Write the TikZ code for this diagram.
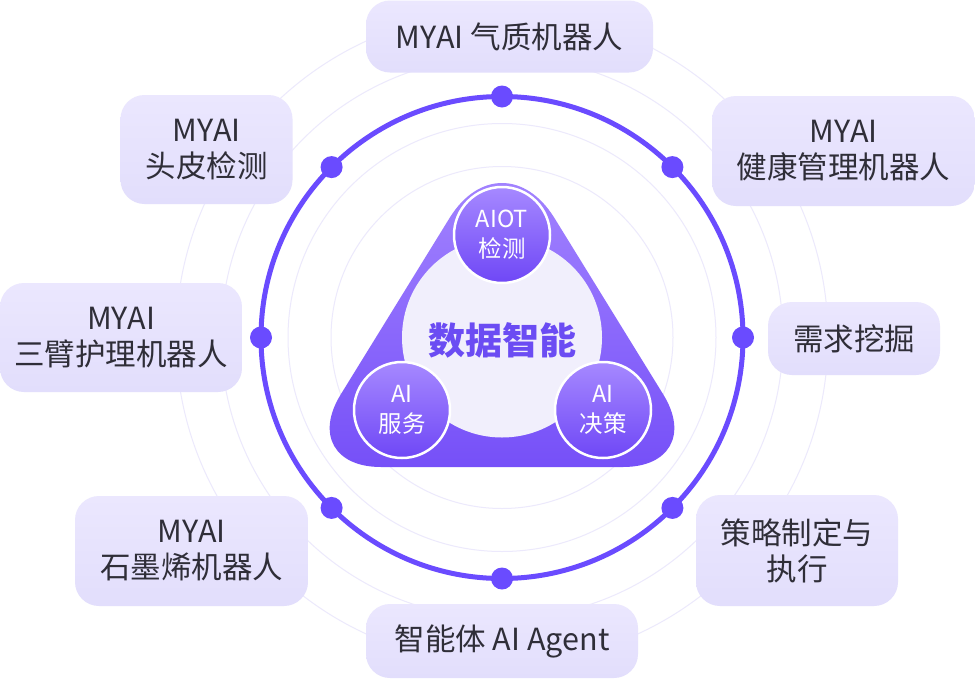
\documentclass[tikz,border=0pt]{standalone}
\usepackage{fontspec}
\setmainfont{Noto Sans CJK SC}
\usetikzlibrary{calc}
\definecolor{ringc}{HTML}{6A4BFF}
\definecolor{faint}{HTML}{ECE9FC}
\definecolor{cardtop}{HTML}{EBE7FE}
\definecolor{cardbot}{HTML}{E2DEFC}
\definecolor{txt}{HTML}{2F2E38}
\definecolor{tritop}{HTML}{A384FF}
\definecolor{tribot}{HTML}{7650F8}
\definecolor{hubtop}{HTML}{A689FF}
\definecolor{hubbot}{HTML}{6F47F6}
\definecolor{core}{HTML}{F1EFFC}
\definecolor{coretext}{HTML}{6B4CF3}
\begin{document}
\begin{tikzpicture}[x=1pt,y=-1pt,
  card/.style={rounded corners=24pt, top color=cardtop, bottom color=cardbot,
    draw=none, align=center, text=txt, inner sep=0pt,
    font=\fontsize{30.5}{36}\selectfont},
  hub/.style={circle, minimum size=96pt, inner sep=0pt, top color=hubtop,
    bottom color=hubbot, draw=white, line width=2.5pt, align=center,
    text=white, font=\fontsize{23.5}{30}\selectfont},
  dotn/.style={circle, fill=ringc, minimum size=22pt, inner sep=0pt},
  faintc/.style={draw=faint, line width=1pt}]
\useasboundingbox (0,0) rectangle (975,678);
\fill[white] (0,0) rectangle (975,678);
\coordinate (O) at (502,337.5);
% faint concentric circles
\foreach \r in {171,214,281,326}
  \draw[faintc] (O) circle[radius=\r pt];
% main ring
\draw[ringc, line width=5pt] (O) circle[radius=241pt];
\foreach \a/\n in {90/d1,45/d2,0/d3,-45/d4,-90/d5,-135/d6,180/d7,135/d8}
  \node[dotn] (\n) at ($(O)+({241*cos(\a)},{-241*sin(\a)})$) {};
% rounded triangle
\coordinate (TA) at (502,133);
\coordinate (TB) at (296,467);
\coordinate (TC) at (708,467);
\coordinate (P1) at ($(TA)!100pt!(TB)$);
\coordinate (P2) at ($(TA)!100pt!(TC)$);
\coordinate (Q1) at ($(TB)!85pt!(TA)$);
\coordinate (Q2) at ($(TB)!85pt!(TC)$);
\coordinate (R2) at ($(TC)!85pt!(TB)$);
\coordinate (R1) at ($(TC)!85pt!(TA)$);
\shade[top color=tritop, bottom color=tribot]
  (P1) .. controls ($(P1)!0.55!(TA)$) and ($(P2)!0.55!(TA)$) .. (P2)
  -- (R1) .. controls ($(R1)!0.55!(TC)$) and ($(R2)!0.55!(TC)$) .. (R2)
  -- (Q2) .. controls ($(Q2)!0.55!(TB)$) and ($(Q1)!0.55!(TB)$) .. (Q1)
  -- cycle;
\node[circle, fill=core, minimum size=200pt, inner sep=0pt] (core) at (O) {};
\node[text=coretext, font=\fontsize{37}{42}\selectfont\bfseries] (title) at (502,340) {数据智能};
\node[hub] (h1) at (502,235) {AIOT\\检测};
\node[hub] (h2) at (402,410) {AI\\服务};
\node[hub] (h3) at (603,410) {AI\\决策};
% cards
\node[card, minimum width=287pt, minimum height=72pt] (c1) at (509.5,36.5) {MYAI 气质机器人};
\node[card, minimum width=172pt, minimum height=109pt] (c2) at (206.5,149.5) {MYAI\\头皮检测};
\node[card, minimum width=263pt, minimum height=110pt] (c3) at (843.5,151) {MYAI\\健康管理机器人};
\node[card, minimum width=172pt, minimum height=73pt] (c4) at (854,338.5) {需求挖掘};
\node[card, minimum width=242pt, minimum height=109pt] (c5) at (121,337.5) {MYAI\\三臂护理机器人};
\node[card, minimum width=233pt, minimum height=110pt] (c6) at (191.5,551) {MYAI\\石墨烯机器人};
\node[card, minimum width=272pt, minimum height=74pt] (c7) at (502,641) {智能体 AI Agent};
\node[card, minimum width=202pt, minimum height=111pt] (c8) at (797,550.5) {策略制定与\\执行};
\end{tikzpicture}
\end{document}
